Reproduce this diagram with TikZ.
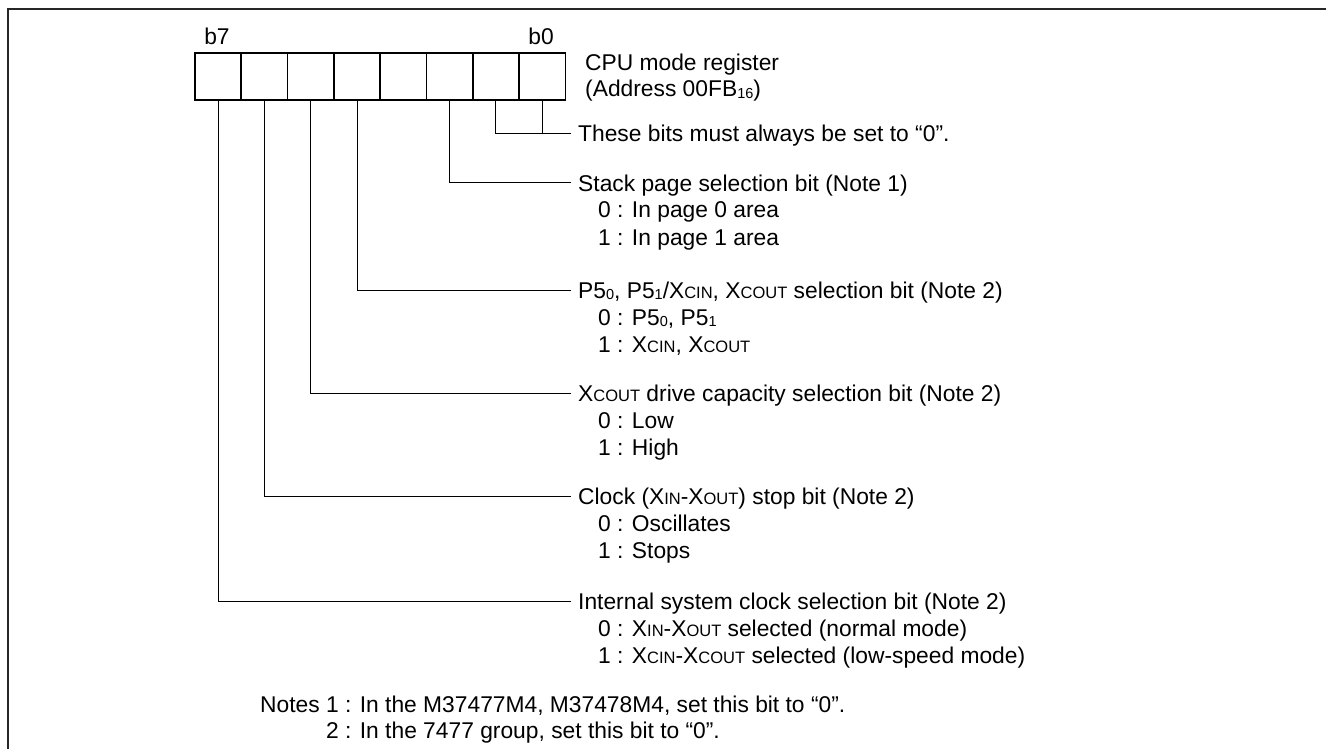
\documentclass[tikz,border=0pt]{standalone}
\usepackage{fontspec}
\setmainfont{Liberation Sans}
\newcommand\smc[1]{{\fontsize{16.5}{16.5}\selectfont #1}}
\newcommand\lsub[1]{\raisebox{-1.5pt}{\fontsize{14.5}{14.5}\selectfont #1}}
\begin{document}
\begin{tikzpicture}[x=1pt,y=-1pt,
  txt/.style={font=\fontsize{22.8}{27}\selectfont},
  cell/.style={draw,line width=1.7pt,minimum width=46.3pt,minimum height=47pt,inner sep=0pt,anchor=north west},
  hdr/.style={txt,anchor=west,inner xsep=7pt,inner ysep=0pt,text height=16pt,text depth=0pt},
  sub/.style={txt,anchor=base west,inner sep=0pt},
  conn/.style={line width=1pt},
  frame/.style={line width=2.5pt,draw=black!85}]
\useasboundingbox (0,0) rectangle (1326,749);
\clip (0,0) rectangle (1326,749);
\draw[frame] (8,760) -- (8,9) -- (1340,9);
% register cells
\foreach \i in {0,...,7}{
  \node[cell] (c\i) at ({564.5-(\i+1)*46.3},52) {};
}
\node[txt,anchor=base,inner sep=0pt] (lb7) at (217,45) {b7};
\node[txt,anchor=base,inner sep=0pt] (lb0) at (541,45) {b0};
\node[sub] (title1) at (585,71) {CPU mode register};
\node[sub] (title2) at (585,97) {(Address 00FB\lsub{16})};
% headers
\node[hdr] (h0) at (571,134) {These bits must always be set to “0”.};
\node[hdr] (h1) at (571,183) {Stack page selection bit (Note 1)};
\node[sub] (s1a) at (598,218) {0 : In page 0 area};
\node[sub] (s1b) at (598,245) {1 : In page 1 area};
\node[hdr] (h2) at (571,290) {P5\lsub{0}, P5\lsub{1}/X\smc{CIN}, X\smc{COUT} selection bit (Note 2)};
\node[sub] (s2a) at (598,325) {0 : P5\lsub{0}, P5\lsub{1}};
\node[sub] (s2b) at (598,352) {1 : X\smc{CIN}, X\smc{COUT}};
\node[hdr] (h3) at (571,393) {X\smc{COUT} drive capacity selection bit (Note 2)};
\node[sub] (s3a) at (598,428) {0 : Low};
\node[sub] (s3b) at (598,455) {1 : High};
\node[hdr] (h4) at (571,496) {Clock (X\smc{IN}-X\smc{OUT}) stop bit (Note 2)};
\node[sub] (s4a) at (598,531) {0 : Oscillates};
\node[sub] (s4b) at (598,558) {1 : Stops};
\node[hdr] (h5) at (571,601) {Internal system clock selection bit (Note 2)};
\node[sub] (s5a) at (598,636) {0 : X\smc{IN}-X\smc{OUT} selected (normal mode)};
\node[sub] (s5b) at (598,663) {1 : X\smc{CIN}-X\smc{COUT} selected (low-speed mode)};
% notes
\node[sub] (n1) at (260,712) {Notes 1 : In the M37477M4, M37478M4, set this bit to “0”.};
\node[sub] (n2) at (260,738) {\phantom{Notes }2 : In the 7477 group, set this bit to “0”.};
% connectors
\draw[conn] (c0.south) -- (c0.south |- h0.west);
\draw[conn] (c1.south) |- (h0.west);
\draw[conn] (c2.south) |- (h1.west);
\draw[conn] (c4.south) |- (h2.west);
\draw[conn] (c5.south) |- (h3.west);
\draw[conn] (c6.south) |- (h4.west);
\draw[conn] (c7.south) |- (h5.west);
\end{tikzpicture}
\end{document}
